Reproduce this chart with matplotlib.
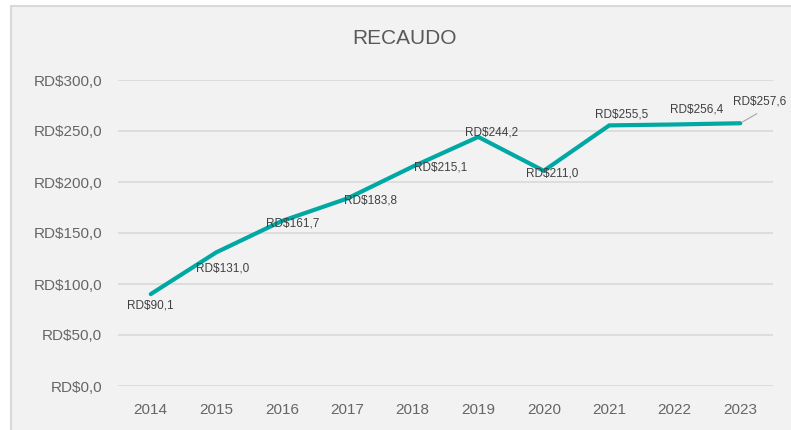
import matplotlib.pyplot as plt
from matplotlib.patches import Rectangle

# Datos del gráfico
years = ["2014", "2015", "2016", "2017", "2018", "2019", "2020", "2021", "2022", "2023"]
recaudo = [90.1, 131.0, 161.7, 183.8, 215.1, 244.2, 211.0, 255.5, 256.4, 257.6]
# desplazamiento de cada etiqueta respecto al punto (pixeles)
label_offsets = [(0, -11), (6, -16), (11, -2), (23, -2), (28, -1), (13, 4), (8, -3), (12, 11), (22, 15), (19, 22)]

plt.rcParams['font.family'] = ['Liberation Sans', 'DejaVu Sans']

fig = plt.figure(figsize=(7.91, 4.30), dpi=100)
fig.patch.set_facecolor("white")
# marco del gráfico
fig.patches.append(Rectangle((11 / 791, -0.1), 1.1, 1 - 6 / 430 + 0.1, transform=fig.transFigure,
                             facecolor="#f2f2f2", edgecolor="#d9d9d9", linewidth=1.5, zorder=-1))

ax = fig.add_axes([118 / 791, 44 / 430, 655 / 791, 306 / 430])
ax.set_facecolor("none")

x = list(range(len(years)))
ax.plot(x, recaudo, color="#00a8a4", linewidth=3.0, solid_capstyle="round", solid_joinstyle="miter", zorder=3)

for i, v in enumerate(recaudo):
    dx, dy = label_offsets[i]
    txt = "RD$" + f"{v:.1f}".replace(".", ",")
    ax.annotate(txt, (i, v), xytext=(dx, dy), textcoords="offset pixels",
                ha="center", va="center", fontsize=8.5, color="#404040", zorder=4)

# línea guía de la última etiqueta
ax.annotate("", xy=(9, recaudo[9]), xytext=(19, 11), textcoords="offset pixels",
            arrowprops=dict(arrowstyle="-", color="#a6a6a6", linewidth=0.8))

ax.set_xlim(-0.5, 9.5)
ax.set_ylim(0, 300)
ax.set_xticks(x)
ax.set_xticklabels(years)
yt = [0, 50, 100, 150, 200, 250, 300]
ax.set_yticks(yt)
ax.set_yticklabels(["RD$" + f"{t:.1f}".replace(".", ",") for t in yt])
ax.tick_params(axis="both", length=0, labelsize=11, labelcolor="#666666")
ax.tick_params(axis="y", pad=11.5)
ax.tick_params(axis="x", pad=12.5)
ax.grid(axis="y", color="#d9d9d9", linewidth=1.2)
ax.set_axisbelow(True)
for s in ax.spines.values():
    s.set_visible(False)

fig.text(405 / 791, 1 - 38 / 430, "RECAUDO", ha="center", va="center", fontsize=15, color="#595959")

fig.savefig("out.png", dpi=100)
